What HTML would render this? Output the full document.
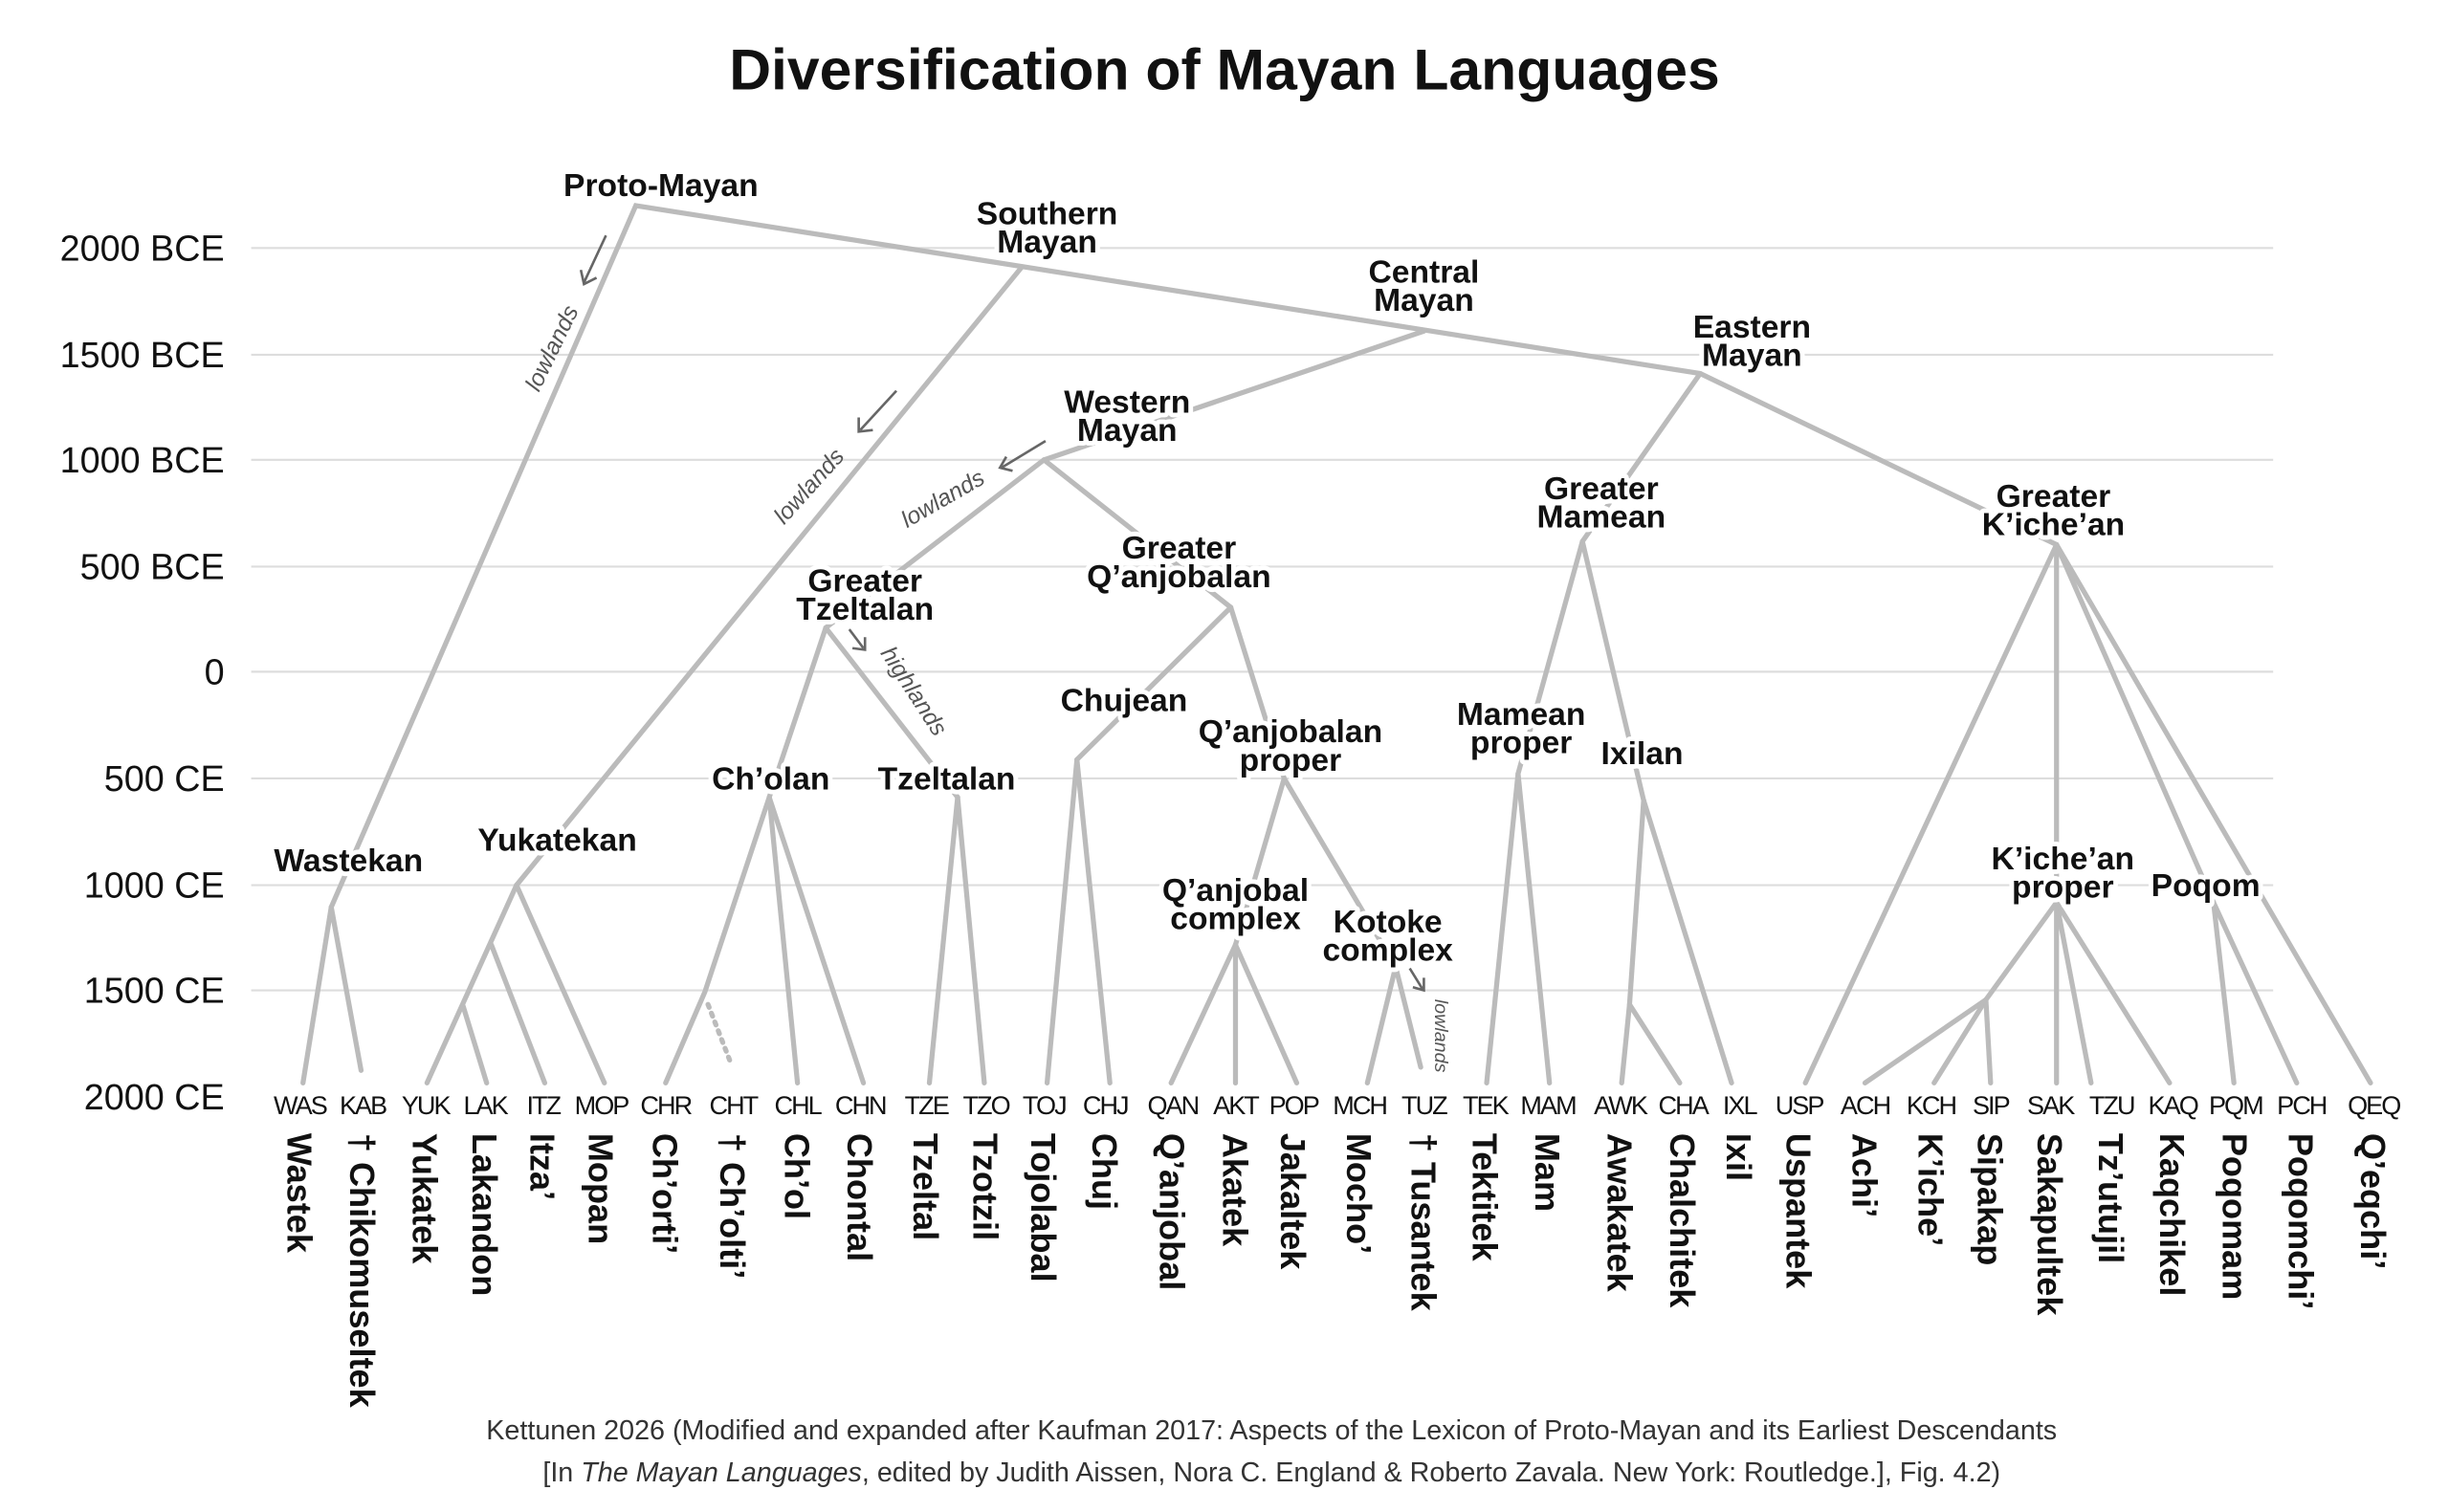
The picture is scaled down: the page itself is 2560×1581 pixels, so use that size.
<!DOCTYPE html>
<html><head><meta charset="utf-8"><style>
html,body{margin:0;padding:0;background:#fff}
svg{display:block}
text{font-family:"Liberation Sans",sans-serif}
.ax{font-size:23px;fill:#111;text-anchor:end}
.cd{font-size:16.5px;fill:#111;text-anchor:middle;letter-spacing:-1.2px}
.nm{font-size:22px;font-weight:bold;fill:#111}
.lb{font-size:20.5px;font-weight:bold;fill:#111;text-anchor:middle;stroke:#fff;stroke-width:6px;paint-order:stroke;stroke-linejoin:round}
.it{font-size:15px;font-style:italic;fill:#555;text-anchor:middle}
.ln{stroke:#bbb;stroke-width:3.2;fill:none;stroke-linecap:round}
.gr{stroke:#ddd;stroke-width:1.3}
.ar{stroke:#666;stroke-width:1.6;fill:none}
</style></head><body>
<svg width="2560" height="1581" viewBox="0 0 1560 963.4" preserveAspectRatio="none">
<text x="780" y="57" text-anchor="middle" font-size="37" font-weight="bold" fill="#111">Diversification of Mayan Languages</text>
<g class="gr">
<line x1="160" y1="158" x2="1448" y2="158"/><line x1="160" y1="226" x2="1448" y2="226"/>
<line x1="160" y1="293" x2="1448" y2="293"/><line x1="160" y1="361" x2="1448" y2="361"/>
<line x1="160" y1="428" x2="1448" y2="428"/><line x1="160" y1="496" x2="1448" y2="496"/>
<line x1="160" y1="564" x2="1448" y2="564"/><line x1="160" y1="631" x2="1448" y2="631"/>
</g>
<g class="ax">
<text x="143" y="166">2000 BCE</text><text x="143" y="234">1500 BCE</text>
<text x="143" y="301">1000 BCE</text><text x="143" y="369">500 BCE</text>
<text x="143" y="436">0</text><text x="143" y="504">500 CE</text>
<text x="143" y="572">1000 CE</text><text x="143" y="639">1500 CE</text>
<text x="143" y="707">2000 CE</text>
</g>
<g class="ln">
<polyline points="211,578 405,131 1083,238 1310,347"/>
<line x1="651" y1="170" x2="329" y2="564"/>
<line x1="907" y1="211" x2="665" y2="293"/>
<line x1="665" y1="293" x2="526" y2="400"/>
<line x1="665" y1="293" x2="784" y2="387"/>
<line x1="526" y1="400" x2="490" y2="508"/>
<line x1="526" y1="400" x2="610" y2="508"/>
<polyline points="490,508 449,632 424,690"/>
<line x1="490" y1="508" x2="508" y2="690"/><line x1="490" y1="508" x2="550" y2="690"/>
<line x1="610" y1="508" x2="592" y2="690"/><line x1="610" y1="508" x2="627" y2="690"/>
<polyline points="784,387 686,484 667,690"/><line x1="686" y1="484" x2="707" y2="690"/>
<line x1="784" y1="387" x2="818" y2="496"/>
<line x1="818" y1="496" x2="787" y2="602"/>
<line x1="787" y1="602" x2="746" y2="690"/><line x1="787" y1="602" x2="787" y2="690"/><line x1="787" y1="602" x2="826" y2="690"/>
<line x1="818" y1="496" x2="889" y2="616"/>
<line x1="889" y1="616" x2="871" y2="690"/><line x1="889" y1="616" x2="905" y2="680"/>
<line x1="329" y1="564" x2="385" y2="690"/>
<line x1="329" y1="564" x2="272" y2="690"/>
<line x1="313" y1="602" x2="347" y2="690"/>
<line x1="295" y1="641" x2="310" y2="690"/>
<line x1="211" y1="578" x2="193" y2="690"/><line x1="211" y1="578" x2="230" y2="682"/>
<polyline points="1083,238 1008,345 967,493 947,690"/>
<line x1="967" y1="493" x2="987" y2="690"/>
<line x1="1008" y1="345" x2="1047" y2="510"/>
<line x1="1047" y1="510" x2="1103" y2="690"/>
<polyline points="1047,510 1038,640 1033,690"/>
<line x1="1038" y1="640" x2="1070" y2="690"/>
<line x1="1310" y1="347" x2="1150" y2="690"/>
<line x1="1310" y1="347" x2="1310" y2="575"/>
<line x1="1310" y1="347" x2="1410" y2="575"/>
<line x1="1310" y1="347" x2="1510" y2="690"/>
<polyline points="1310,575 1265,637 1188,690"/>
<line x1="1265" y1="637" x2="1232" y2="690"/>
<line x1="1265" y1="637" x2="1268" y2="690"/>
<line x1="1310" y1="575" x2="1310" y2="690"/>
<line x1="1310" y1="575" x2="1332" y2="690"/>
<line x1="1310" y1="575" x2="1382" y2="690"/>
<line x1="1410" y1="575" x2="1423" y2="690"/><line x1="1410" y1="575" x2="1463" y2="690"/>
</g>
<line x1="451" y1="640" x2="465" y2="676" stroke="#bbb" stroke-width="3.2" stroke-dasharray="2,4" stroke-linecap="round"/>
<g class="ar">
<line x1="386" y1="150" x2="372" y2="180"/><polyline points="370,172 372,181 380,177"/>
<line x1="571" y1="249" x2="548" y2="274"/><polyline points="547,266 547,275 556,274"/>
<line x1="666" y1="281" x2="638" y2="298"/><polyline points="641,291 637,298 645,300"/>
<line x1="541" y1="401" x2="550" y2="413"/><polyline points="543,413 551,414 551,406"/>
<line x1="898" y1="617" x2="906" y2="630"/><polyline points="900,629 907,631 907,623"/>
</g>
<g class="it">
<text transform="translate(356,224) rotate(-64)">lowlands</text>
<text transform="translate(519,313) rotate(-48)">lowlands</text>
<text transform="translate(603,322) rotate(-30)">lowlands</text>
<text transform="translate(578,443) rotate(57)">highlands</text>
<text transform="translate(914,660) rotate(90)" font-size="12">lowlands</text>
</g>
<g class="lb">
<text x="421" y="125">Proto-Mayan</text>
<text x="667" y="143">Southern</text><text x="667" y="161">Mayan</text>
<text x="907" y="180">Central</text><text x="907" y="198">Mayan</text>
<text x="1116" y="215">Eastern</text><text x="1116" y="233">Mayan</text>
<text x="718" y="263">Western</text><text x="718" y="281">Mayan</text>
<text x="1020" y="318">Greater</text><text x="1020" y="336">Mamean</text>
<text x="1308" y="323">Greater</text><text x="1308" y="341">K’iche’an</text>
<text x="751" y="356">Greater</text><text x="751" y="374">Q’anjobalan</text>
<text x="551" y="377">Greater</text><text x="551" y="395">Tzeltalan</text>
<text x="716" y="453">Chujean</text>
<text x="822" y="473">Q’anjobalan</text><text x="822" y="491">proper</text>
<text x="969" y="462">Mamean</text><text x="969" y="480">proper</text>
<text x="1046" y="487">Ixilan</text>
<text x="491" y="503">Ch’olan</text>
<text x="603" y="503">Tzeltalan</text>
<text x="222" y="555">Wastekan</text>
<text x="355" y="542">Yukatekan</text>
<text x="1314" y="554">K’iche’an</text><text x="1314" y="572">proper</text>
<text x="1405" y="571">Poqom</text>
<text x="787" y="574">Q’anjobal</text><text x="787" y="592">complex</text>
<text x="884" y="594">Kotoke</text><text x="884" y="612">complex</text>
</g>
<g class="cd">
<text x="191" y="710">WAS</text><text x="231" y="710">KAB</text><text x="271" y="710">YUK</text><text x="309" y="710">LAK</text>
<text x="346" y="710">ITZ</text><text x="383" y="710">MOP</text><text x="424" y="710">CHR</text><text x="467" y="710">CHT</text>
<text x="508" y="710">CHL</text><text x="548" y="710">CHN</text><text x="590" y="710">TZE</text><text x="628" y="710">TZO</text>
<text x="665" y="710">TOJ</text><text x="704" y="710">CHJ</text><text x="747" y="710">QAN</text><text x="787" y="710">AKT</text>
<text x="824" y="710">POP</text><text x="866" y="710">MCH</text><text x="907" y="710">TUZ</text><text x="946" y="710">TEK</text>
<text x="986" y="710">MAM</text><text x="1032" y="710">AWK</text><text x="1072" y="710">CHA</text><text x="1108" y="710">IXL</text>
<text x="1146" y="710">USP</text><text x="1188" y="710">ACH</text><text x="1230" y="710">KCH</text><text x="1268" y="710">SIP</text>
<text x="1306" y="710">SAK</text><text x="1345" y="710">TZU</text><text x="1384" y="710">KAQ</text><text x="1424" y="710">PQM</text>
<text x="1466" y="710">PCH</text><text x="1512" y="710">QEQ</text>
</g>
<g class="nm">
<text transform="translate(183,722) rotate(90)">Wastek</text>
<text transform="translate(223,722) rotate(90)">† Chikomuseltek</text>
<text transform="translate(263,722) rotate(90)">Yukatek</text>
<text transform="translate(301,722) rotate(90)">Lakandon</text>
<text transform="translate(338,722) rotate(90)">Itza’</text>
<text transform="translate(375,722) rotate(90)">Mopan</text>
<text transform="translate(416,722) rotate(90)">Ch’orti’</text>
<text transform="translate(459,722) rotate(90)">† Ch’olti’</text>
<text transform="translate(500,722) rotate(90)">Ch’ol</text>
<text transform="translate(540,722) rotate(90)">Chontal</text>
<text transform="translate(582,722) rotate(90)">Tzeltal</text>
<text transform="translate(620,722) rotate(90)">Tzotzil</text>
<text transform="translate(657,722) rotate(90)">Tojolabal</text>
<text transform="translate(696,722) rotate(90)">Chuj</text>
<text transform="translate(739,722) rotate(90)">Q’anjobal</text>
<text transform="translate(779,722) rotate(90)">Akatek</text>
<text transform="translate(816,722) rotate(90)">Jakaltek</text>
<text transform="translate(858,722) rotate(90)">Mocho’</text>
<text transform="translate(899,722) rotate(90)">† Tusantek</text>
<text transform="translate(938,722) rotate(90)">Tektitek</text>
<text transform="translate(978,722) rotate(90)">Mam</text>
<text transform="translate(1024,722) rotate(90)">Awakatek</text>
<text transform="translate(1064,722) rotate(90)">Chalchitek</text>
<text transform="translate(1100,722) rotate(90)">Ixil</text>
<text transform="translate(1138,722) rotate(90)">Uspantek</text>
<text transform="translate(1180,722) rotate(90)">Achi’</text>
<text transform="translate(1222,722) rotate(90)">K’iche’</text>
<text transform="translate(1260,722) rotate(90)">Sipakap</text>
<text transform="translate(1298,722) rotate(90)">Sakapultek</text>
<text transform="translate(1337,722) rotate(90)">Tz’utujil</text>
<text transform="translate(1376,722) rotate(90)">Kaqchikel</text>
<text transform="translate(1416,722) rotate(90)">Poqomam</text>
<text transform="translate(1458,722) rotate(90)">Poqomchi’</text>
<text transform="translate(1504,722) rotate(90)">Q’eqchi’</text>
</g>
<text x="810" y="917" text-anchor="middle" font-size="17.5" fill="#333">Kettunen 2026 (Modified and expanded after Kaufman 2017: Aspects of the Lexicon of Proto-Mayan and its Earliest Descendants</text>
<text x="810" y="944" text-anchor="middle" font-size="17.5" fill="#333">[In <tspan font-style="italic">The Mayan Languages</tspan>, edited by Judith Aissen, Nora C. England &amp; Roberto Zavala. New York: Routledge.], Fig. 4.2)</text>
</svg>
</body></html>
